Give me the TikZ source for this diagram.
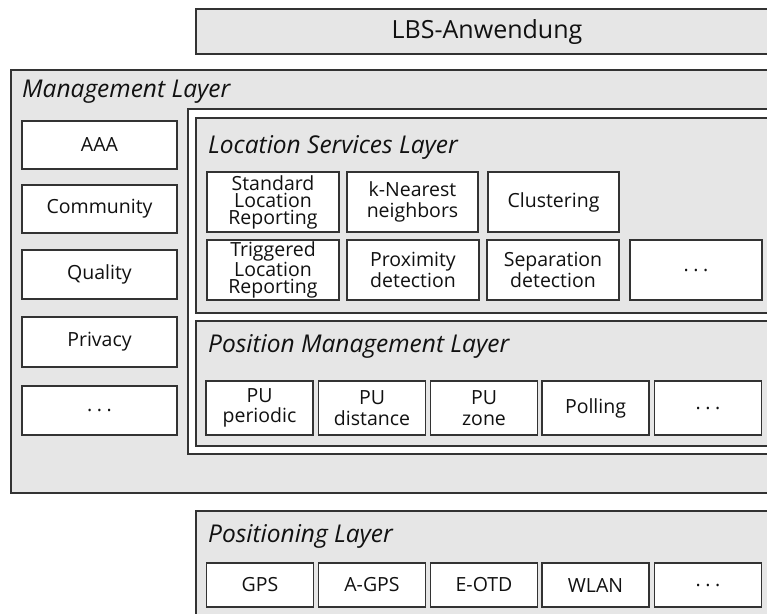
\documentclass[tikz,border=0pt]{standalone}
\usepackage{fontspec}
\setmainfont{Open Sans}
\newcommand{\mydots}{.\hspace{4.5pt}.\hspace{4.5pt}.}
\begin{document}
\begin{tikzpicture}[x=1pt,y=-1pt,
  layer/.style={draw=lineC,fill=fillC,line width=1.5pt},
  wbox/.style={draw=lineC,fill=white,line width=1.5pt},
  item/.style={draw=lineC,fill=white,line width=1.5pt,align=center,inner sep=0pt,
     font=\fontsize{19.5}{20.5}\selectfont,text=textC},
  ttl/.style={anchor=base west,inner sep=0pt,font=\fontsize{24.5}{26}\selectfont\itshape,text=textC}
]
\definecolor{lineC}{HTML}{333333}
\definecolor{fillC}{HTML}{E6E6E6}
\definecolor{textC}{HTML}{111111}
\useasboundingbox (0,0) rectangle (767,613);
\clip (0,0) rectangle (767,613);
% LBS application
\draw[layer] (196,9) rectangle (790,54);
\node[inner sep=0pt,font=\fontsize{25}{26}\selectfont,text=textC] (lbs) at (487,32) {LBS-Anwendung};
% Management layer
\draw[layer] (11,70) rectangle (790,493);
\node[ttl] (ml) at (22,97) {Management Layer};
\draw[wbox] (188,109) rectangle (790,454);
% Location services layer
\draw[layer] (196,118) rectangle (790,313);
\node[ttl] (lsl) at (208,153) {Location Services Layer};
% Position management layer
\draw[layer] (196,321) rectangle (790,446);
\node[ttl] (pml) at (208,352) {Position Management Layer};
% Positioning layer
\draw[layer] (196,511) rectangle (790,640);
\node[ttl] (pl) at (208,542) {Positioning Layer};
% management column
\foreach \n/\t/\ya/\yb in {aaa/AAA/121/169, com/Community/185/233, qua/Quality/250/299, pri/Privacy/317/367, mdots/\mydots/386/435}{
  \node[item,minimum width=155pt,minimum height={\yb-\ya}] (\n) at (99.5,{(\ya+\yb)/2}) {\t};
}
% location services items
\def\ls{\fontsize{19.5}{17}\selectfont}
\node[item,minimum width=132pt,minimum height=60pt,font=\ls] (slr) at (273,202) {Standard\\Location\\Reporting};
\node[item,minimum width=131pt,minimum height=60pt] (knn) at (412.5,202) {k-Nearest\\neighbors};
\node[item,minimum width=131pt,minimum height=60pt] (clu) at (553.5,202) {Clustering};
\node[item,minimum width=132pt,minimum height=60pt,font=\ls] (tlr) at (273,270) {Triggered\\Location\\Reporting};
\node[item,minimum width=132pt,minimum height=60pt] (prox) at (413,270) {Proximity\\detection};
\node[item,minimum width=132pt,minimum height=60pt] (sep) at (553,270) {Separation\\detection};
\node[item,minimum width=132pt,minimum height=60pt] (ldots) at (696,270) {\mydots};
% position management items
\def\pw{107pt}
\node[item,minimum width=\pw,minimum height=54pt] (pup) at (259.5,408) {PU\\periodic};
\node[item,minimum width=\pw,minimum height=54pt] (pud) at (372,408) {PU\\distance};
\node[item,minimum width=\pw,minimum height=54pt] (puz) at (484,408) {PU\\zone};
\node[item,minimum width=\pw,minimum height=54pt] (pol) at (595.5,408) {Polling};
\node[item,minimum width=\pw,minimum height=54pt] (pdots) at (708,408) {\mydots};
% positioning items
\node[item,minimum width=\pw,minimum height=44pt] (gps) at (260,585) {GPS};
\node[item,minimum width=\pw,minimum height=44pt] (agps) at (372,585) {A-GPS};
\node[item,minimum width=\pw,minimum height=44pt] (eotd) at (484,585) {E-OTD};
\node[item,minimum width=\pw,minimum height=44pt] (wlan) at (595.5,585) {WLAN};
\node[item,minimum width=\pw,minimum height=44pt] (gdots) at (708,585) {\mydots};
\end{tikzpicture}
\end{document}
